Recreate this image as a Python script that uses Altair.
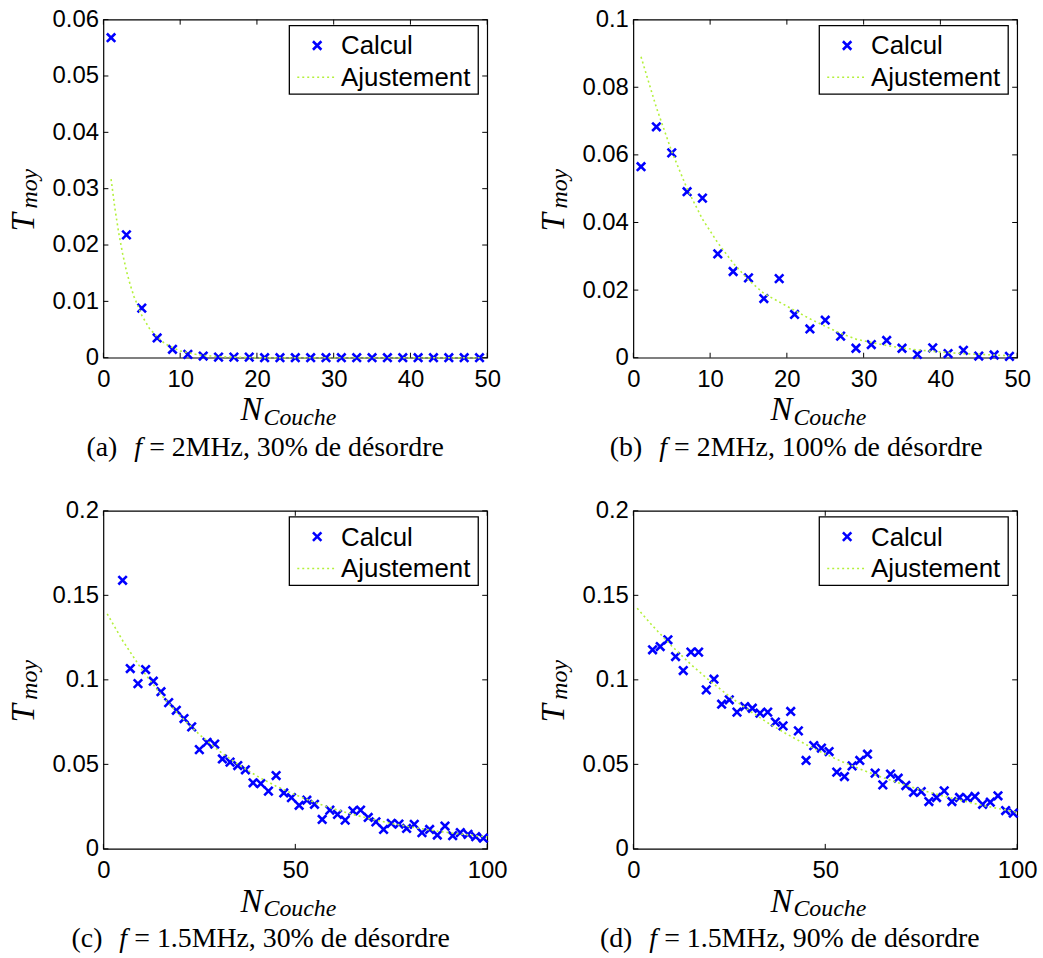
import altair as alt
import pandas as pd

W, H = 386, 340
BLUE = "#0000ff"
FITC = "#b4f03c"
XPATH = "M-1,-1L1,1M-1,1L1,-1"
SANS = "Liberation Sans"
SERIF = "Liberation Serif"

# ---------------- data ----------------
a_x = [1, 3, 5, 7, 9, 11, 13, 15, 17, 19, 21, 23, 25, 27, 29, 31, 33, 35, 37, 39, 41, 43, 45, 47, 49]
a_y = [0.0568, 0.0218, 0.0088, 0.0035, 0.0015, 0.0006, 0.0003, 0.0001, 0.0001, 0.0001, 0.0, 0.0, 0.0,
       0.0, 0.0, 0.0, 0.0, 0.0, 0.0, 0.0, 0.0, 0.0, 0.0, 0.0, 0.0]
a_fit_x = [1, 1.5, 2, 2.5, 3, 3.5, 4, 5, 6, 7, 8, 9, 10, 11, 12, 13, 15, 17, 20, 25, 30, 35, 40, 45, 49]
a_fit_y = [0.0317, 0.0265, 0.0221, 0.0185, 0.0154, 0.0129, 0.0108, 0.0075, 0.0052, 0.0037, 0.0025,
           0.0018, 0.0012, 0.0009, 0.0006, 0.0004, 0.0002, 0.0001, 0.0, 0.0, 0.0, 0.0, 0.0, 0.0, 0.0]

b_x = [1, 3, 5, 7, 9, 11, 13, 15, 17, 19, 21, 23, 25, 27, 29, 31, 33, 35, 37, 39, 41, 43, 45, 47, 49]
b_y = [0.0565, 0.0683, 0.0606, 0.0491, 0.0472, 0.0307, 0.0255, 0.0236, 0.0175, 0.0234, 0.0128, 0.0085,
       0.0111, 0.0064, 0.0028, 0.0039, 0.0051, 0.0028, 0.0010, 0.0029, 0.0012, 0.0022, 0.0005, 0.0008, 0.0004]
b_fit_x = [1, 3, 5, 7, 9, 11, 13, 15, 17, 19, 21, 23, 25, 27, 29, 31, 33, 35, 37, 39, 41, 43, 45, 47, 49]
b_fit_y = [0.089, 0.074, 0.061, 0.050, 0.041, 0.034, 0.028, 0.023, 0.019, 0.0165, 0.014, 0.0115, 0.0093,
           0.0072, 0.0055, 0.0045, 0.0036, 0.0029, 0.0023, 0.0019, 0.0015, 0.0012, 0.0010, 0.0008, 0.0006]

c_x = [5, 7, 9, 11, 13, 15, 17, 19, 21, 23, 25, 27, 29, 31, 33, 35, 37, 39, 41, 43, 45, 47, 49, 51,
       53, 55, 57, 59, 61, 63, 65, 67, 69, 71, 73, 75, 77, 79, 81, 83, 85, 87, 89, 91, 93, 95, 97, 99]
c_y = [0.1589, 0.1067, 0.0978, 0.1061, 0.0992, 0.0930, 0.0865, 0.0820, 0.0771, 0.0722, 0.0587, 0.0630,
       0.0620, 0.0532, 0.0513, 0.0493, 0.0468, 0.0391, 0.0386, 0.0342, 0.0434, 0.0331, 0.0303, 0.0258,
       0.0288, 0.0264, 0.0174, 0.0229, 0.0204, 0.0170, 0.0225, 0.0229, 0.0186, 0.0160, 0.0115, 0.0151,
       0.0147, 0.0121, 0.0145, 0.0096, 0.0115, 0.0082, 0.0135, 0.0078, 0.0096, 0.0086, 0.0072, 0.0063]
c_fit_x = [1, 5, 10, 15, 20, 25, 30, 35, 40, 45, 50, 55, 60, 65, 70, 75, 80, 85, 90, 95, 100]
c_fit_y = [0.139, 0.1233, 0.1061, 0.0913, 0.0786, 0.0677, 0.0582, 0.0501, 0.0431, 0.0371, 0.0320,
           0.0275, 0.0237, 0.0204, 0.0175, 0.0151, 0.0130, 0.0112, 0.0096, 0.0083, 0.0071]

d_x = [5, 7, 9, 11, 13, 15, 17, 19, 21, 23, 25, 27, 29, 31, 33, 35, 37, 39, 41, 43, 45, 47, 49, 51,
       53, 55, 57, 59, 61, 63, 65, 67, 69, 71, 73, 75, 77, 79, 81, 83, 85, 87, 89, 91, 93, 95, 97, 99]
d_y = [0.1178, 0.1197, 0.1237, 0.1138, 0.1055, 0.1164, 0.1164, 0.0941, 0.1004, 0.0856,
       0.0882, 0.0809, 0.0842, 0.0832, 0.0803, 0.0809, 0.0750, 0.0728, 0.0813, 0.0698,
       0.0523, 0.0611, 0.0596, 0.0576, 0.0454, 0.0428, 0.0491, 0.0523, 0.0560, 0.0448,
       0.0379, 0.0442, 0.0418, 0.0375, 0.0335, 0.0339, 0.0280, 0.0304, 0.0343, 0.0280,
       0.0304, 0.0300, 0.0310, 0.0264, 0.0276, 0.0314, 0.0227, 0.0211]
d_fit_x = [1, 5, 10, 15, 20, 25, 30, 35, 40, 45, 50, 55, 60, 65, 70, 75, 80, 85, 90, 95, 100]
d_fit_y = [0.1424, 0.132, 0.120, 0.1091, 0.0993, 0.0903, 0.0821, 0.0746, 0.0679, 0.0617, 0.0561,
           0.0510, 0.0464, 0.0422, 0.0384, 0.0349, 0.0317, 0.0289, 0.0262, 0.0239, 0.0217]

x_ticks_50 = [0, 10, 20, 30, 40, 50]
x_ticks_100 = [0, 50, 100]
a_yticks = [0, 0.01, 0.02, 0.03, 0.04, 0.05, 0.06]
b_yticks = [0, 0.02, 0.04, 0.06, 0.08, 0.1]
cd_yticks = [0, 0.05, 0.1, 0.15, 0.2]

legend_labels = ["Calcul", "Ajustement"]


def one(s):
    return pd.DataFrame({"t": [s]})


def txt(s, x, y, size, font, style="normal", align="left", baseline="alphabetic", angle=0):
    return alt.Chart(one(s)).mark_text(
        font=font, fontSize=size, fontStyle=style, align=align, baseline=baseline,
        angle=angle, color="black"
    ).encode(x=alt.value(x), y=alt.value(y), text="t:N")


def panel(px, py, fx, fy, xmax, ymax, xticks, yticks, lab, fpos, rest):
    xs = alt.Scale(domain=[0, xmax], nice=False, zero=False)
    ys = alt.Scale(domain=[0, ymax], nice=False)
    xa = alt.Axis(values=xticks, title=None, labelFlush=False, labelOverlap=False, labelPadding=10,
                  ticks=False, domain=False, grid=False, labelFont=SANS, labelFontSize=24,
                  labelColor="black")
    ya = alt.Axis(values=yticks, title=None, format="~g", labelOverlap=False, labelPadding=5,
                  ticks=False, domain=False, grid=False, labelFont=SANS, labelFontSize=24,
                  labelColor="black")
    pts = alt.Chart(pd.DataFrame({"x": px, "y": py})).mark_point(
        shape=XPATH, filled=False, color=BLUE, strokeWidth=2.6, size=72, opacity=1
    ).encode(x=alt.X("x:Q", scale=xs, axis=xa), y=alt.Y("y:Q", scale=ys, axis=ya))
    fit = alt.Chart(pd.DataFrame({"x": fx, "y": fy})).mark_line(
        color=FITC, strokeDash=[2, 3], strokeWidth=1.6
    ).encode(x=alt.X("x:Q", scale=xs, axis=xa), y=alt.Y("y:Q", scale=ys, axis=ya))

    xt = pd.DataFrame({"x": xticks})
    yt = pd.DataFrame({"y": yticks})
    rule = dict(color="black", strokeWidth=1)
    tb = alt.Chart(xt).mark_rule(**rule).encode(
        x=alt.X("x:Q", scale=xs, axis=xa), y=alt.value(H), y2=alt.value(H - 5))
    tt = alt.Chart(xt).mark_rule(**rule).encode(
        x=alt.X("x:Q", scale=xs, axis=xa), y=alt.value(0), y2=alt.value(5))
    tl = alt.Chart(yt).mark_rule(**rule).encode(
        y=alt.Y("y:Q", scale=ys, axis=ya), x=alt.value(0), x2=alt.value(5))
    tr = alt.Chart(yt).mark_rule(**rule).encode(
        y=alt.Y("y:Q", scale=ys, axis=ya), x=alt.value(W), x2=alt.value(W - 5))

    box = alt.Chart(one("box")).mark_rect(fill="white", stroke="black", strokeWidth=1.3).encode(
        x=alt.value(W - 199), x2=alt.value(W - 9), y=alt.value(6), y2=alt.value(75))
    lpt = alt.Chart(one("p")).mark_point(
        shape=XPATH, filled=False, color=BLUE, strokeWidth=2.6, size=72, opacity=1
    ).encode(x=alt.value(215), y=alt.value(26))
    lln = alt.Chart(one("l")).mark_rule(color=FITC, strokeDash=[2, 3], strokeWidth=1.6).encode(
        x=alt.value(195), x2=alt.value(233), y=alt.value(58))
    lt1 = txt(legend_labels[0], 239, 27, 26, SANS, baseline="middle")
    lt2 = txt(legend_labels[1], 239, 59, 26, SANS, baseline="middle")

    ty1 = txt("T", -70, 213, 33, SERIF, style="italic", angle=270)
    ty2 = txt("moy", -67, 190, 24, SERIF, style="italic", angle=270)
    tx1 = txt("N", 138, H + 63, 33, SERIF, style="italic")
    tx2 = txt("Couche", 161, H + 68, 24, SERIF, style="italic")

    c1 = txt(lab, fpos - 17, H + 99, 28, SERIF, align="right")
    c2 = txt("f", fpos, H + 99, 28, SERIF, style="italic")
    c3 = txt(rest, fpos + 15, H + 99, 28, SERIF)

    return alt.layer(pts, fit, tb, tt, tl, tr, box, lpt, lln, lt1, lt2,
                     ty1, ty2, tx1, tx2, c1, c2, c3).properties(width=W, height=H)


pa = panel(a_x, a_y, a_fit_x, a_fit_y, 50, 0.06, x_ticks_50, a_yticks,
           "(a)", 31, "= 2MHz, 30% de désordre")
pb = panel(b_x, b_y, b_fit_x, b_fit_y, 50, 0.1, x_ticks_50, b_yticks,
           "(b)", 26, "= 2MHz, 100% de désordre")
pc = panel(c_x, c_y, c_fit_x, c_fit_y, 100, 0.2, x_ticks_100, cd_yticks,
           "(c)", 16, "= 1.5MHz, 30% de désordre")
pdd = panel(d_x, d_y, d_fit_x, d_fit_y, 100, 0.2, x_ticks_100, cd_yticks,
            "(d)", 16, "= 1.5MHz, 90% de désordre")

chart = alt.concat(
    pa, pb, pc, pdd, columns=2, spacing={"row": 154, "column": 147}, bounds="flush"
).properties(
    padding={"left": 7, "top": 4, "right": 5, "bottom": 5}, background="white"
).configure_view(
    stroke="black", strokeWidth=1.2
)

chart.save("out.html", embed_options={"renderer": "svg", "actions": False})
